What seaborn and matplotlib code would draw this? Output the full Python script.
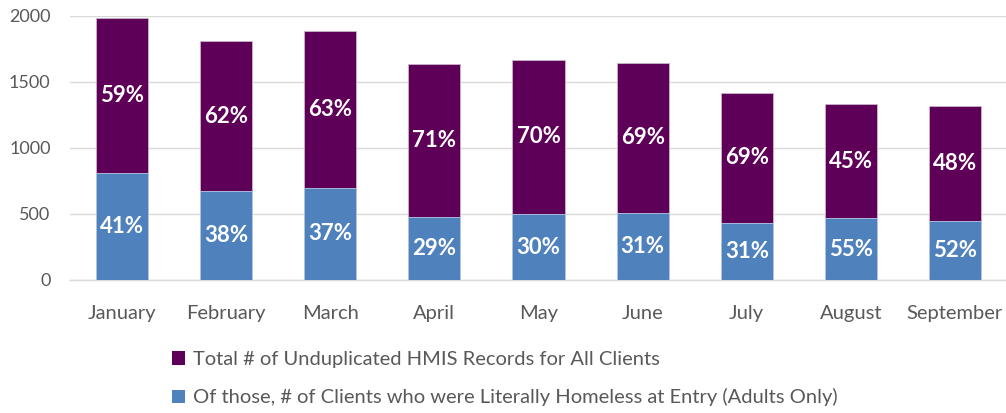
import matplotlib
matplotlib.use("Agg")
import matplotlib.pyplot as plt
import seaborn as sns
import pandas as pd
from matplotlib.patches import Patch

months = ["January", "February", "March", "April", "May", "June", "July", "August", "September"]
total_records = [1985, 1808, 1884, 1634, 1667, 1644, 1417, 1333, 1318]
homeless_adults = [808, 674, 699, 475, 500, 510, 434, 467, 449]
pct_total_labels = ["59%", "62%", "63%", "71%", "70%", "69%", "69%", "45%", "48%"]
pct_homeless_labels = ["41%", "38%", "37%", "29%", "30%", "31%", "31%", "55%", "52%"]
series_names = ["Total # of Unduplicated HMIS Records for All Clients",
                "Of those, # of Clients who were Literally Homeless at Entry (Adults Only)"]

PURPLE = "#5E0058"
BLUE = "#4F81BD"
GRID = "#D9D9D9"
TXT = "#595959"

sns.set_theme(style="white")
plt.rcParams["font.family"] = ["Lato", "DejaVu Sans"]

df = pd.DataFrame({"month": months, "total": total_records, "homeless": homeless_adults})

fig = plt.figure(figsize=(10.06, 4.13), dpi=100)
ax = fig.add_axes([70 / 1006, 1 - 280 / 413, 936 / 1006, 264 / 413])

sns.barplot(data=df, x="month", y="total", color=PURPLE, width=0.5, saturation=1, ax=ax,
            edgecolor="#C9B6C8", linewidth=0.6, zorder=3)
sns.barplot(data=df, x="month", y="homeless", color=BLUE, width=0.5, saturation=1, ax=ax,
            edgecolor="#B9CBE3", linewidth=0.6, zorder=4)

for i, (t, h) in enumerate(zip(total_records, homeless_adults)):
    ax.text(i, (t + h) / 2, pct_total_labels[i], ha="center", va="center", color="white",
            fontsize=16, fontweight="bold", zorder=5)
    ax.text(i, h / 2, pct_homeless_labels[i], ha="center", va="center", color="white",
            fontsize=16, fontweight="bold", zorder=5)

ax.set_ylim(0, 2000)
ax.set_xlim(-0.5, len(months) - 0.51)
ax.set_yticks([0, 500, 1000, 1500, 2000])
ax.yaxis.grid(True, color=GRID, linewidth=1, zorder=0)
ax.set_axisbelow(True)
for s in ["top", "right", "left"]:
    ax.spines[s].set_visible(False)
ax.spines["bottom"].set_color(GRID)
ax.spines["bottom"].set_linewidth(1)
ax.set_xlabel("")
ax.set_ylabel("")
ax.tick_params(axis="y", colors=TXT, labelsize=13, length=0, pad=14)
ax.tick_params(axis="x", colors=TXT, labelsize=14.5, length=0, pad=18)

handles = [Patch(facecolor=PURPLE, edgecolor="none"), Patch(facecolor=BLUE, edgecolor="none")]
leg = fig.legend(handles, series_names, loc="upper left", bbox_to_anchor=(154 / 1006, 1 - 333 / 413),
                 frameon=False, fontsize=14.5, handlelength=0.65, handleheight=0.65,
                 handletextpad=0.4, labelspacing=1.0, labelcolor=TXT)

fig.savefig("out.png", dpi=100)
